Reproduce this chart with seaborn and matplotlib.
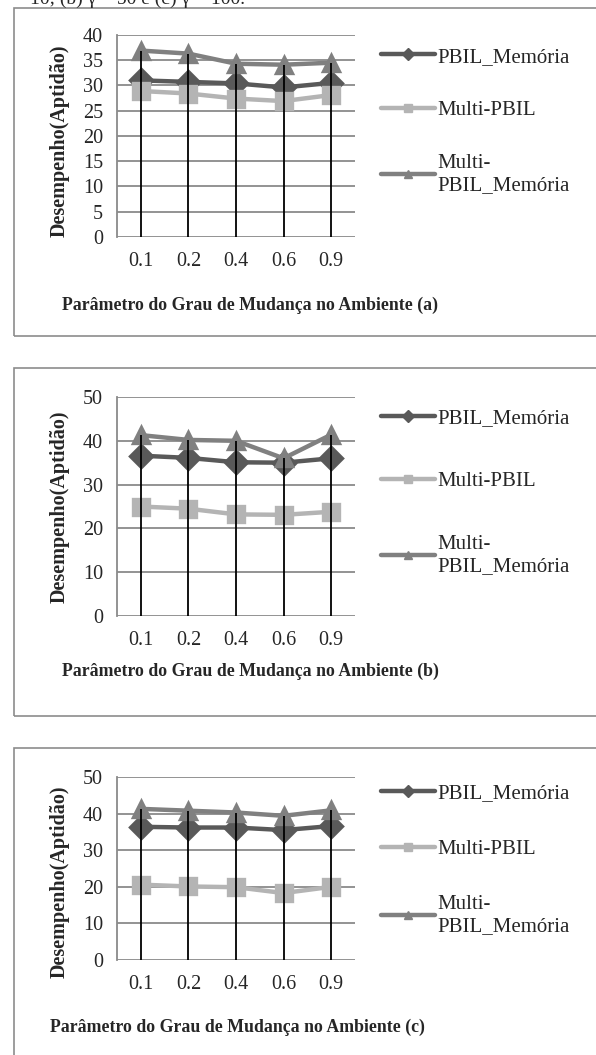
import pandas as pd
import seaborn as sns
import matplotlib.pyplot as plt
from matplotlib.lines import Line2D
from matplotlib.patches import Rectangle

sns.set_style('white')
plt.rcParams['font.family'] = ['Liberation Serif', 'DejaVu Serif']

# grau de mudanca no ambiente
graus = ['0.1', '0.2', '0.4', '0.6', '0.9']
series = ['PBIL_Memória', 'Multi-PBIL', 'Multi-PBIL_Memória']
legenda = ['PBIL_Memória', 'Multi-PBIL', 'Multi-\nPBIL_Memória']

# (a)
pbil_mem_a = [31.0, 30.7, 30.4, 29.6, 30.5]
multi_a = [28.9, 28.4, 27.4, 26.9, 28.1]
multi_mem_a = [36.9, 36.3, 34.3, 34.1, 34.5]
# (b)
pbil_mem_b = [36.6, 36.1, 35.1, 35.0, 36.0]
multi_b = [25.0, 24.5, 23.2, 23.1, 23.8]
multi_mem_b = [41.3, 40.2, 40.0, 36.0, 41.4]
# (c)
pbil_mem_c = [36.4, 36.2, 36.2, 35.5, 36.6]
multi_c = [20.6, 20.1, 19.9, 18.3, 20.0]
multi_mem_c = [41.3, 40.8, 40.3, 39.4, 40.9]

cores = {'PBIL_Memória': '#595959', 'Multi-PBIL': '#b4b4b4', 'Multi-PBIL_Memória': '#808080'}
marcas = ['D', 's', '^']

fig = plt.figure(figsize=(5.96, 10.55), dpi=100)

paineis = [
    ('a', [pbil_mem_a, multi_a, multi_mem_a], 40, 5, [0.1963, 0.7754, 0.3993, 0.1915]),
    ('b', [pbil_mem_b, multi_b, multi_mem_b], 50, 10, [0.1963, 0.4161, 0.3993, 0.2076]),
    ('c', [pbil_mem_c, multi_c, multi_mem_c], 50, 10, [0.1963, 0.0900, 0.3993, 0.1735]),
]
# molduras (px): topo, base
molduras = [(8, 336), (368, 716), (748, 1070)]
xlabel_pos = [(250, 305), (250, 671), (237, 1027)]
legenda_pos = [(381, 121, 1.63), (381, 492, 2.1), (381, 860, 1.73)]
ylabel_y = [0.475, 0.5, 0.43]

for i, (letra, vals, ymax, passo, rect) in enumerate(paineis):
    t, b = molduras[i]
    fig.patches.append(Rectangle((14 / 596, 1 - b / 1055), 1.2, (b - t) / 1055,
                                 transform=fig.transFigure, fill=False,
                                 edgecolor='#8c8c8c', lw=1.2, zorder=0))
    ax = fig.add_axes(rect)
    df = pd.DataFrame({
        'grau': graus * 3,
        'valor': vals[0] + vals[1] + vals[2],
        'serie': [s for s in series for _ in graus],
    })
    sns.pointplot(data=df, x='grau', y='valor', hue='serie', hue_order=series,
                  palette=cores, markers=marcas, linestyles='-', errorbar=None,
                  markersize=11, linewidth=3.2, legend=False, ax=ax)
    # linhas de queda (drop lines)
    topo = df.groupby('grau', sort=False)['valor'].max()
    ax.vlines(range(len(graus)), 0, topo.values, color='black', lw=1.3, zorder=10)

    ax.set_ylim(0, ymax)
    ax.set_xlim(-0.5, len(graus) - 0.5)
    ax.set_yticks(range(0, ymax + 1, passo))
    ax.grid(axis='y', color='#8a8a8a', lw=1.3)
    ax.set_axisbelow(True)
    for s in ['top', 'right', 'bottom']:
        ax.spines[s].set_visible(False)
    ax.spines['left'].set_color('#8a8a8a')
    ax.spines['left'].set_linewidth(1.3)
    ax.tick_params(axis='y', length=4, width=1.3, color='#8a8a8a', pad=6, labelsize=14.5)
    ax.tick_params(axis='x', length=0, pad=11, labelsize=14.5)
    ax.set_xlabel('')
    ax.set_ylabel('Desempenho(Aptidão)', fontsize=14.5, fontweight='bold')
    ax.yaxis.set_label_coords(-0.197, ylabel_y[i])

    xl, yl = xlabel_pos[i]
    fig.text(xl / 596, 1 - yl / 1055,
             'Parâmetro do Grau de Mudança no Ambiente (%s)' % letra,
             ha='center', va='center', fontsize=12.8, fontweight='bold')

    handles = [Line2D([], [], color=cores[s], lw=3.2, marker=m, markersize=6)
               for s, m in zip(series, marcas)]
    lx, ly, esp = legenda_pos[i]
    ax.legend(handles, legenda, loc='center left',
              bbox_to_anchor=(lx / 596, 1 - ly / 1055), bbox_transform=fig.transFigure,
              frameon=False, fontsize=15, handlelength=2.6, handletextpad=0.12,
              labelspacing=esp, borderpad=0, borderaxespad=0)

fig.text(30 / 596, 1 - 4 / 1055, '10; (b) γ = 50 e (c) γ = 100.',
         ha='left', va='baseline', fontsize=14)

fig.savefig('out.png', dpi=100)
